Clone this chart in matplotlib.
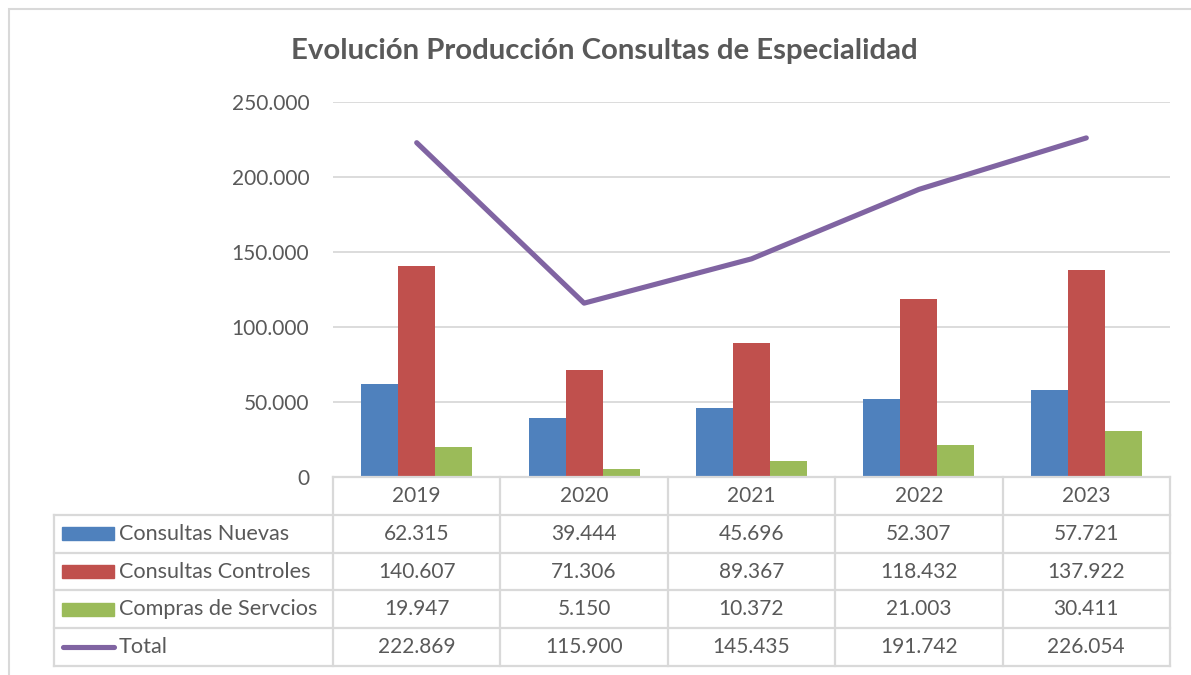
import matplotlib.pyplot as plt
import matplotlib.patches as mpatches
import numpy as np

plt.rcParams["font.family"] = ["Lato", "DejaVu Sans"]

years = ["2019", "2020", "2021", "2022", "2023"]
nuevas = [62315, 39444, 45696, 52307, 57721]
controles = [140607, 71306, 89367, 118432, 137922]
compras = [19947, 5150, 10372, 21003, 30411]
total = [222869, 115900, 145435, 191742, 226054]

names = ["Consultas Nuevas", "Consultas Controles", "Compras de Servcios", "Total"]
colors = ["#4F81BD", "#C0504D", "#9BBB59", "#8064A2"]
txt = "#595959"
grid = "#D9D9D9"


def fmt(v):
    return f"{v:,}".replace(",", ".")


W, H = 1191, 675
fig = plt.figure(figsize=(W / 100, H / 100), dpi=100)

# plot area in pixels
left, right, top, zero = 333, 1170, 102, 477
ax = fig.add_axes([left / W, 1 - zero / H, (right - left) / W, (zero - top) / H])

x = np.arange(len(years))
w = 0.221
for k, vals in enumerate([nuevas, controles, compras]):
    ax.bar(x + (k - 1) * w, vals, width=w, color=colors[k], zorder=3)
ax.plot(x, total, color=colors[3], lw=3.7, solid_capstyle="round", zorder=4)

ax.set_xlim(-0.5, len(years) - 0.5)
ax.set_ylim(0, 250000)
ax.set_yticks(range(0, 250001, 50000))
ax.set_yticklabels([fmt(v) for v in range(0, 250001, 50000)], color=txt, fontsize=15)
ax.tick_params(axis="y", length=0, pad=17)
ax.set_xticks([])
ax.grid(axis="y", color=grid, lw=1.3, zorder=0)
for s in ax.spines.values():
    s.set_visible(False)

fig.text(604 / W, 1 - 51 / H, "Evolución Producción Consultas de Especialidad",
         ha="center", va="center", fontsize=21.2, fontweight="bold", color=txt)

# data table below the plot
tab_left, tab_bottom = 54, 666
cat_px = (right - left) / len(years)
tx = fig.add_axes([tab_left / W, 1 - tab_bottom / H, (right - tab_left) / W, (tab_bottom - zero) / H])
x0 = -0.5 - (left - tab_left) / cat_px
tx.set_xlim(x0, len(years) - 0.5)
tx.set_ylim(5, 0)
tx.axis("off")


def px(p):
    return -0.5 - (left - p) / cat_px


lw_t = 1.6
tx.plot([-0.5, len(years) - 0.5], [0, 0], color=grid, lw=lw_t, clip_on=False)
for r in range(1, 6):
    tx.plot([x0, len(years) - 0.5], [r, r], color=grid, lw=lw_t, clip_on=False)
tx.plot([x0, x0], [1, 5], color=grid, lw=lw_t, clip_on=False)
for c in range(len(years) + 1):
    tx.plot([c - 0.5, c - 0.5], [0, 5], color=grid, lw=lw_t, clip_on=False)

for i, y in enumerate(years):
    tx.text(i, 0.5, y, ha="center", va="center", fontsize=15, color=txt)
for r, vals in enumerate([nuevas, controles, compras, total]):
    for i, v in enumerate(vals):
        tx.text(i, r + 1.5, fmt(v), ha="center", va="center", fontsize=15, color=txt)
    if r < 3:
        tx.add_patch(mpatches.Rectangle((px(62), r + 1.5 - 0.17), px(114) - px(62), 0.34,
                                        color=colors[r], clip_on=False))
    else:
        tx.plot([px(63), px(114)], [r + 1.5, r + 1.5], color=colors[r], lw=3.7,
                solid_capstyle="round", clip_on=False)
    tx.text(px(119), r + 1.5, names[r], ha="left", va="center", fontsize=15.6, color=txt)

# chart area frame
fig.patches.append(mpatches.Rectangle((9 / W, -0.1), 1.2, 1.1 - 9 / H, fill=False,
                                      ec=grid, lw=1.5, transform=fig.transFigure))

fig.savefig("out.png", dpi=100)
